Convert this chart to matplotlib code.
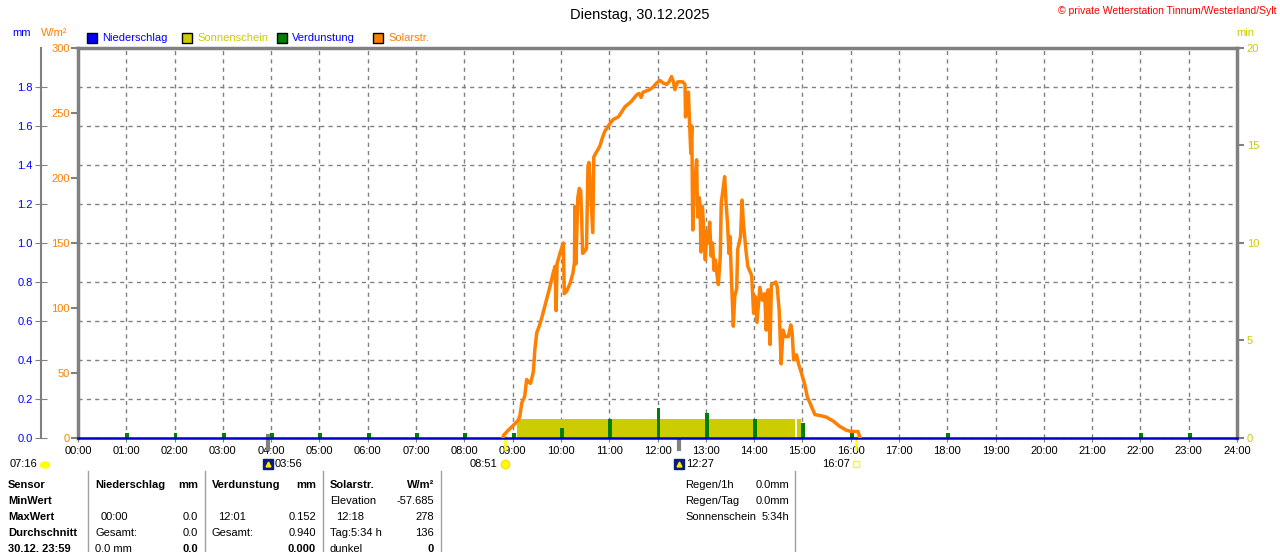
import matplotlib
matplotlib.use("Agg")
import matplotlib.pyplot as plt
import matplotlib.transforms as mtransforms
from matplotlib.patches import Rectangle
from matplotlib.lines import Line2D

plt.rcParams['font.family'] = ['Liberation Sans', 'DejaVu Sans']
plt.rcParams['font.size'] = 8

# ---- data ----
hours = list(range(25))
hour_labels = ["%02d:00" % h for h in hours]

# solar radiation W/m2 (decimal hours)
solar_h = [8.80, 8.81, 8.91, 9.05, 9.12, 9.15, 9.19, 9.25, 9.29, 9.33, 9.37, 9.43,
           9.46, 9.50, 9.55, 9.60, 9.70, 9.77, 9.84, 9.88, 9.90, 9.92, 9.98, 10.05,
           10.07, 10.12, 10.19, 10.25, 10.28, 10.29, 10.31, 10.35, 10.38, 10.41,
           10.43, 10.45, 10.50, 10.53, 10.56, 10.58, 10.66, 10.68, 10.72, 10.77,
           10.81, 10.86, 10.91, 11.00, 11.08, 11.19, 11.26, 11.33, 11.40, 11.46,
           11.57, 11.62, 11.66, 11.70, 11.77, 11.84, 11.91, 11.98, 12.05, 12.12,
           12.19, 12.24, 12.29, 12.33, 12.36, 12.38, 12.42, 12.46, 12.52, 12.57,
           12.58, 12.60, 12.62, 12.64, 12.66, 12.69, 12.71, 12.73, 12.75, 12.78,
           12.81, 12.83, 12.86, 12.88, 12.90, 12.93, 12.95, 12.99, 13.02, 13.05,
           13.08, 13.11, 13.14, 13.17, 13.20, 13.23, 13.26, 13.30, 13.32, 13.36,
           13.39, 13.42, 13.45, 13.48, 13.50, 13.53, 13.57, 13.60, 13.64, 13.66,
           13.72, 13.75, 13.78, 13.83, 13.87, 13.95, 13.99, 14.02, 14.06, 14.12,
           14.17, 14.22, 14.25, 14.29, 14.33, 14.36, 14.41, 14.45, 14.48, 14.52,
           14.56, 14.60, 14.64, 14.71, 14.76, 14.79, 14.82, 14.88, 14.92, 14.98,
           15.05, 15.10, 15.19, 15.26, 15.40, 15.50, 15.64, 15.77, 15.91, 16.01,
           16.15, 16.19, 16.20]
solar_w = [0, 2, 6, 11, 14, 17, 27, 32, 45, 43, 42, 51,
           68, 81, 86, 92, 106, 116, 127, 132, 98, 134, 142, 150,
           111, 113, 119, 127, 135, 178, 134, 185, 192, 190,
           168, 142, 144, 146, 209, 212, 158, 216, 219, 222,
           225, 231, 236, 241, 245, 247, 251, 255, 257, 259,
           264, 265, 262, 266, 267, 268, 270, 273, 275, 273,
           272, 274, 278, 274, 268, 270, 274, 274, 274, 272,
           247, 262, 255, 266, 246, 219, 240, 160, 188, 200,
           214, 170, 185, 180, 143, 178, 165, 137, 159, 150,
           166, 140, 150, 129, 137, 126, 118, 140, 181, 192,
           201, 181, 165, 142, 155, 124, 86, 109, 115, 145,
           155, 183, 165, 145, 132, 125, 96, 109, 89, 116,
           106, 111, 83, 114, 72, 118, 119, 120, 116, 98,
           57, 83, 78, 78, 87, 80, 60, 64, 57, 50,
           41, 32, 24, 18, 17, 16, 13, 9, 6, 5,
           5, 1, 0]

# evaporation mm per hour
evap_h = [1, 2, 3, 4, 5, 6, 7, 8, 9, 10, 11, 12, 13, 14, 15, 16, 18, 22, 23]
evap_mm = [0.025, 0.025, 0.025, 0.025, 0.025, 0.025, 0.025, 0.025, 0.025, 0.05,
           0.10, 0.152, 0.13, 0.10, 0.075, 0.025, 0.025, 0.025, 0.025]

# sunshine minutes
sun_start = [9.10, 14.88]
sun_end = [14.85, 14.97]
sun_min = [1.0, 1.0]

# precipitation
rain_h = [0, 24]
rain_mm = [0.0, 0.0]

# astro events
moonset_text = "07:16"
event_times = {"moon": (3, 56), "sunrise": (8, 51), "noon": (12, 27), "sunset": (16, 7)}

title = "Dienstag, 30.12.2025"
copyright_text = "\u00a9 private Wetterstation Tinnum/Westerland/Sylt"

table_sensor = ["Sensor", "MinWert", "MaxWert", "Durchschnitt", "30.12. 23:59"]
rain_col = ["Niederschlag", "", "00:00", "Gesamt:", "0.0 mm"]
rain_val = ["mm", "", "0.0", "0.0", "0.0"]
evap_col = ["Verdunstung", "", "12:01", "Gesamt:", ""]
evap_val = ["mm", "", "0.152", "0.940", "0.000"]
solar_col = ["Solarstr.", "Elevation", "12:18", "Tag:5:34 h", "dunkel"]
solar_val = ["W/m\u00b2", "-57.685", "278", "136", "0"]
summary_lbl = ["Regen/1h", "Regen/Tag", "Sonnenschein"]
summary_val = ["0.0mm", "0.0mm", "5:34h"]

ORANGE = '#ff8000'
BLUE = '#0000ff'
OLIVE = '#cccc00'
GREEN = '#008000'
GRAY = '#808080'
NAVY = '#0a1a80'

W, H = 1280, 552


def fx(x):
    return x / W


def fy(y):
    return 1 - y / H


fig = plt.figure(figsize=(W / 100, H / 100), dpi=100)
fig.patch.set_facecolor('white')

ax = fig.add_axes([fx(78), fy(438), (1237 - 78) / W, (438 - 48) / H])
ax_min = ax.twinx()
ax_mm = ax.twinx()
ax_top = ax.twinx()

# base axes: W/m2 scale, vertical grid
ax.set_xlim(0, 24)
ax.set_ylim(0, 300)
ax.set_xticks(hours)
ax.set_xticklabels(hour_labels)
ax.set_yticks(range(0, 301, 50))
ax.tick_params(axis='x', length=3, color=GRAY, pad=3, labelsize=8)
ax.tick_params(axis='y', length=5, color=GRAY, width=1.5, pad=1,
               labelcolor=ORANGE, labelsize=8)
ax.grid(axis='x', color=GRAY, linestyle=(0, (3, 3)), linewidth=1)
for s in ['left', 'top', 'right']:
    ax.spines[s].set_color(GRAY)
    ax.spines[s].set_linewidth(2.5)
ax.spines['bottom'].set_visible(False)

# sunshine
ax_min.set_ylim(0, 20)
ax_min.set_yticks([0, 5, 10, 15, 20])
ax_min.tick_params(axis='y', length=5, color=GRAY, width=1.5, pad=2,
                   labelcolor=OLIVE, labelsize=8)
ax_min.bar(sun_start, sun_min, width=[e - s for s, e in zip(sun_start, sun_end)],
           align='edge', color=OLIVE, linewidth=0)
for s in ax_min.spines.values():
    s.set_visible(False)

# evaporation + precipitation on mm scale
ax_mm.set_ylim(0, 2.0)
ax_mm.yaxis.tick_left()
ax_mm.set_yticks([i * 0.2 for i in range(10)])
ax_mm.set_yticklabels(["%.1f" % (i * 0.2) for i in range(10)])
ax_mm.tick_params(axis='y', direction='inout', length=8, color=GRAY, pad=2,
                  labelcolor=BLUE, labelsize=8)
ax_mm.set_axisbelow(True)
ax_mm.grid(axis='y', color=GRAY, linestyle=(0, (3, 3)), linewidth=1)
for s in ax_mm.spines.values():
    s.set_visible(False)
ax_mm.spines['left'].set_visible(True)
ax_mm.spines['left'].set_position(('outward', 37 * 0.72))
ax_mm.spines['left'].set_color(GRAY)
ax_mm.spines['left'].set_linewidth(1.5)
ax_mm.bar([h + 0.02 for h in evap_h], evap_mm, width=0.08, color=GREEN, linewidth=0)
ax_mm.plot(rain_h, rain_mm, color='#0000cc', linewidth=1.8, clip_on=False)

# solar radiation on top
ax_top.set_ylim(0, 300)
ax_top.yaxis.set_visible(False)
for s in ax_top.spines.values():
    s.set_visible(False)
ax_top.plot(solar_h, solar_w, color=ORANGE, linewidth=2.5, solid_joinstyle='round')

# astro markers under the time axis
tr_tick = mtransforms.blended_transform_factory(ax.transData, ax.transAxes)
tr_lbl = mtransforms.blended_transform_factory(ax.transData, fig.transFigure)
ev = {k: h + m / 60 for k, (h, m) in event_times.items()}
for k, col, lw in [("sunrise", '#ffff00', 1.8), ("sunset", '#ffff00', 1.8),
                   ("moon", GRAY, 3), ("noon", GRAY, 3)]:
    ax.add_line(Line2D([ev[k], ev[k]], [-0.028, 0.006], transform=tr_tick,
                       color=col, linewidth=lw, clip_on=False))

y_ev = fy(464)
for k, dx, ha in [("sunrise", -8, 'right'), ("sunset", -6, 'right'),
                  ("moon", 7, 'left'), ("noon", 7, 'left')]:
    hh, mm = event_times[k]
    t = mtransforms.offset_copy(tr_lbl, fig=fig, x=dx, y=0, units='dots')
    fig.text(ev[k], y_ev, "%02d:%02d" % (hh, mm), transform=t, ha=ha, va='center',
             fontsize=8)
ax.plot([ev["sunrise"]], [y_ev], transform=tr_lbl, marker='o', ms=6,
        color='#ffff00', mec='#ffdd00', clip_on=False)
ax.plot([ev["sunset"]], [y_ev], transform=tr_lbl, marker='s', ms=4.5,
        mfc='none', mec='#ffff00', mew=1, clip_on=False)
for k in ["moon", "noon"]:
    ax.plot([ev[k]], [y_ev], transform=tr_lbl, marker='s', ms=7, color=NAVY,
            clip_on=False)
    ax.plot([ev[k]], [y_ev], transform=tr_lbl, marker='^', ms=3.5,
            color='#ffee00', clip_on=False)
fig.text(fx(10), y_ev, moonset_text, ha='left', va='center', fontsize=8)
fig.patches.append(matplotlib.patches.Ellipse((fx(45), fy(465)), 9 / W, 6 / H,
                                              transform=fig.transFigure,
                                              color='#ffff00'))

# header texts
fig.text(0.5, fy(15), title, ha='center', va='center', fontsize=10.5)
fig.text(fx(1276), fy(11), copyright_text, ha='right', va='center',
         fontsize=7.5, color='red')
fig.text(fx(22), fy(33), "mm", ha='center', va='center', color=BLUE)
fig.text(fx(54), fy(33), "W/m\u00b2", ha='center', va='center', color=ORANGE)
fig.text(fx(1245), fy(33), "min", ha='center', va='center', color=OLIVE)

legend = [("Niederschlag", BLUE, BLUE, 87), ("Sonnenschein", OLIVE, OLIVE, 182),
          ("Verdunstung", GREEN, BLUE, 277), ("Solarstr.", ORANGE, ORANGE, 373)]
for name, fc, tc, x0 in legend:
    fig.patches.append(Rectangle((fx(x0), fy(43)), 10 / W, 10 / H,
                                 transform=fig.transFigure, facecolor=fc,
                                 edgecolor='black', linewidth=1))
    fig.text(fx(x0 + 15), fy(38), name, ha='left', va='center', color=tc)

# bottom table
rows_y = [485, 501, 517, 533, 549]
for x in [88, 205, 323, 441, 795]:
    fig.add_artist(Line2D([fx(x), fx(x)], [fy(471), 0], transform=fig.transFigure,
                          color='#a0a0a0', linewidth=1))
for i, y in enumerate(rows_y):
    bold_row = (i == 0) or (i == 4)
    fig.text(fx(8), fy(y), table_sensor[i], ha='left', va='center', weight='bold')
    for col, val, xl, xr in [(rain_col, rain_val, 95, 198),
                             (evap_col, evap_val, 212, 316),
                             (solar_col, solar_val, 330, 434)]:
        xi = xl + 6 if i == 2 else xl
        fig.text(fx(xi), fy(y), col[i], ha='left', va='center',
                 weight='bold' if i == 0 else 'normal')
        fig.text(fx(xr), fy(y), val[i], ha='right', va='center',
                 weight='bold' if bold_row else 'normal')
for lbl, val, y in zip(summary_lbl, summary_val, rows_y):
    fig.text(fx(685), fy(y), lbl, ha='left', va='center')
    fig.text(fx(789), fy(y), val, ha='right', va='center')

fig.savefig("out.png", dpi=100)
